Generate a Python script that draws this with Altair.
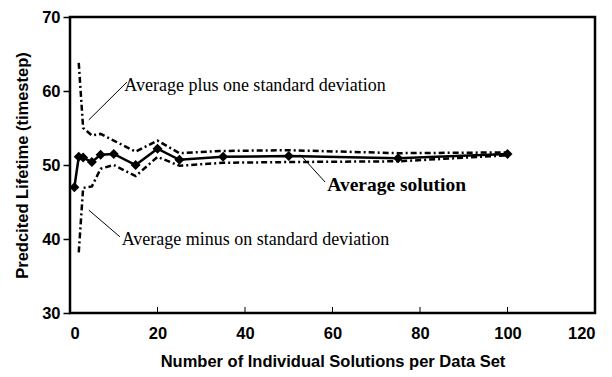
import altair as alt
import pandas as pd

# Average solution
avg_x = [1, 2, 3, 5, 7, 10, 15, 20, 25, 35, 50, 75, 100]
avg_y = [47.0, 51.1, 51.0, 50.4, 51.4, 51.5, 50.0, 52.2, 50.7, 51.1, 51.2, 50.9, 51.5]

# Average +/- one standard deviation
sd_x = [2, 3, 5, 7, 10, 15, 20, 25, 35, 50, 75, 100]
upper_y = [63.8, 55.0, 54.0, 54.2, 53.3, 51.8, 53.3, 51.6, 51.9, 52.0, 51.6, 51.7]
lower_y = [38.2, 46.9, 47.1, 49.5, 50.0, 48.5, 51.1, 49.9, 50.3, 50.4, 50.5, 51.3]

# Annotations
ann_text = ["Average plus one standard deviation",
            "Average minus on standard deviation"]
ann_x = [12.4, 11.8]
ann_y = [60.7, 39.9]
bold_text = ["Average solution"]
bold_x = [58.8]
bold_y = [47.3]
lead_x = [13.0, 11.4, 58.3]
lead_y = [61.2, 40.3, 47.7]
lead_x2 = [4.3, 4.3, 52.6]
lead_y2 = [56.1, 43.9, 51.4]

x_ticks = [0, 20, 40, 60, 80, 100, 120]
y_ticks = [30, 40, 50, 60, 70]
inner_ticks = [20, 40, 60, 80, 100]

avg_df = pd.DataFrame({"x": avg_x, "y": avg_y})
band_df = pd.DataFrame({"x": sd_x * 2, "y": upper_y + lower_y,
                        "s": ["upper"] * len(sd_x) + ["lower"] * len(sd_x)})
ann_df = pd.DataFrame({"t": ann_text, "x": ann_x, "y": ann_y})
bold_df = pd.DataFrame({"t": bold_text, "x": bold_x, "y": bold_y})
lead_df = pd.DataFrame({"x": lead_x, "y": lead_y, "x2": lead_x2, "y2": lead_y2})
tick_df = pd.DataFrame({"x": inner_ticks})

xs = alt.Scale(domain=[0, 120], nice=False)
ys = alt.Scale(domain=[30, 70], nice=False)

x_axis = alt.Axis(values=x_ticks, title="Number of Individual Solutions per Data Set",
                  grid=False, ticks=False, domain=False, labelPadding=12,
                  titlePadding=12)
y_axis = alt.Axis(values=y_ticks, title="Predcited Lifetime (timestep)",
                  grid=False, tickSize=7, tickColor="black", tickWidth=1.5,
                  domain=False, labelPadding=3, titlePadding=11)

base_font = "Liberation Sans"

band = alt.Chart(band_df).mark_line(color="black", strokeWidth=2.5,
                                    strokeDash=[6, 3, 2, 3]).encode(
    x=alt.X("x:Q", scale=xs, axis=x_axis),
    y=alt.Y("y:Q", scale=ys, axis=y_axis),
    detail="s:N",
)

avg = alt.Chart(avg_df).mark_line(color="black", strokeWidth=2.5,
                                  point=alt.OverlayMarkDef(shape="diamond", filled=True,
                                                           color="black", size=100)).encode(
    x=alt.X("x:Q", scale=xs),
    y=alt.Y("y:Q", scale=ys),
)

leads = alt.Chart(lead_df).mark_rule(color="black", strokeWidth=1).encode(
    x=alt.X("x:Q", scale=xs), y=alt.Y("y:Q", scale=ys),
    x2="x2:Q", y2="y2:Q",
)

texts = alt.Chart(ann_df).mark_text(align="left", baseline="middle",
                                    font="Liberation Serif", fontSize=18,
                                    color="black").encode(
    x=alt.X("x:Q", scale=xs), y=alt.Y("y:Q", scale=ys), text="t:N",
)

btexts = alt.Chart(bold_df).mark_text(align="left", baseline="middle",
                                      font="Liberation Serif", fontSize=19.5,
                                      fontWeight="bold", color="black").encode(
    x=alt.X("x:Q", scale=xs), y=alt.Y("y:Q", scale=ys), text="t:N",
)

ticks = alt.Chart(tick_df).mark_rule(color="black", strokeWidth=1).encode(
    x=alt.X("x:Q", scale=xs),
    y=alt.value(296), y2=alt.value(290),
)

chart = alt.layer(band, avg, leads, texts, btexts, ticks).properties(
    width=525, height=296,
    autosize=alt.AutoSizeParams(type="none"),
    padding={"left": 70, "top": 17, "right": 17, "bottom": 64},
    background="white",
).configure_view(
    stroke="black", strokeWidth=2.5,
).configure_axis(
    labelFont=base_font, labelFontWeight="bold", labelFontSize=16.5, labelColor="black",
    titleFont=base_font, titleFontWeight="bold", titleFontSize=16.5, titleColor="black",
)

chart.save("out.html", embed_options={"renderer": "svg", "actions": False})
